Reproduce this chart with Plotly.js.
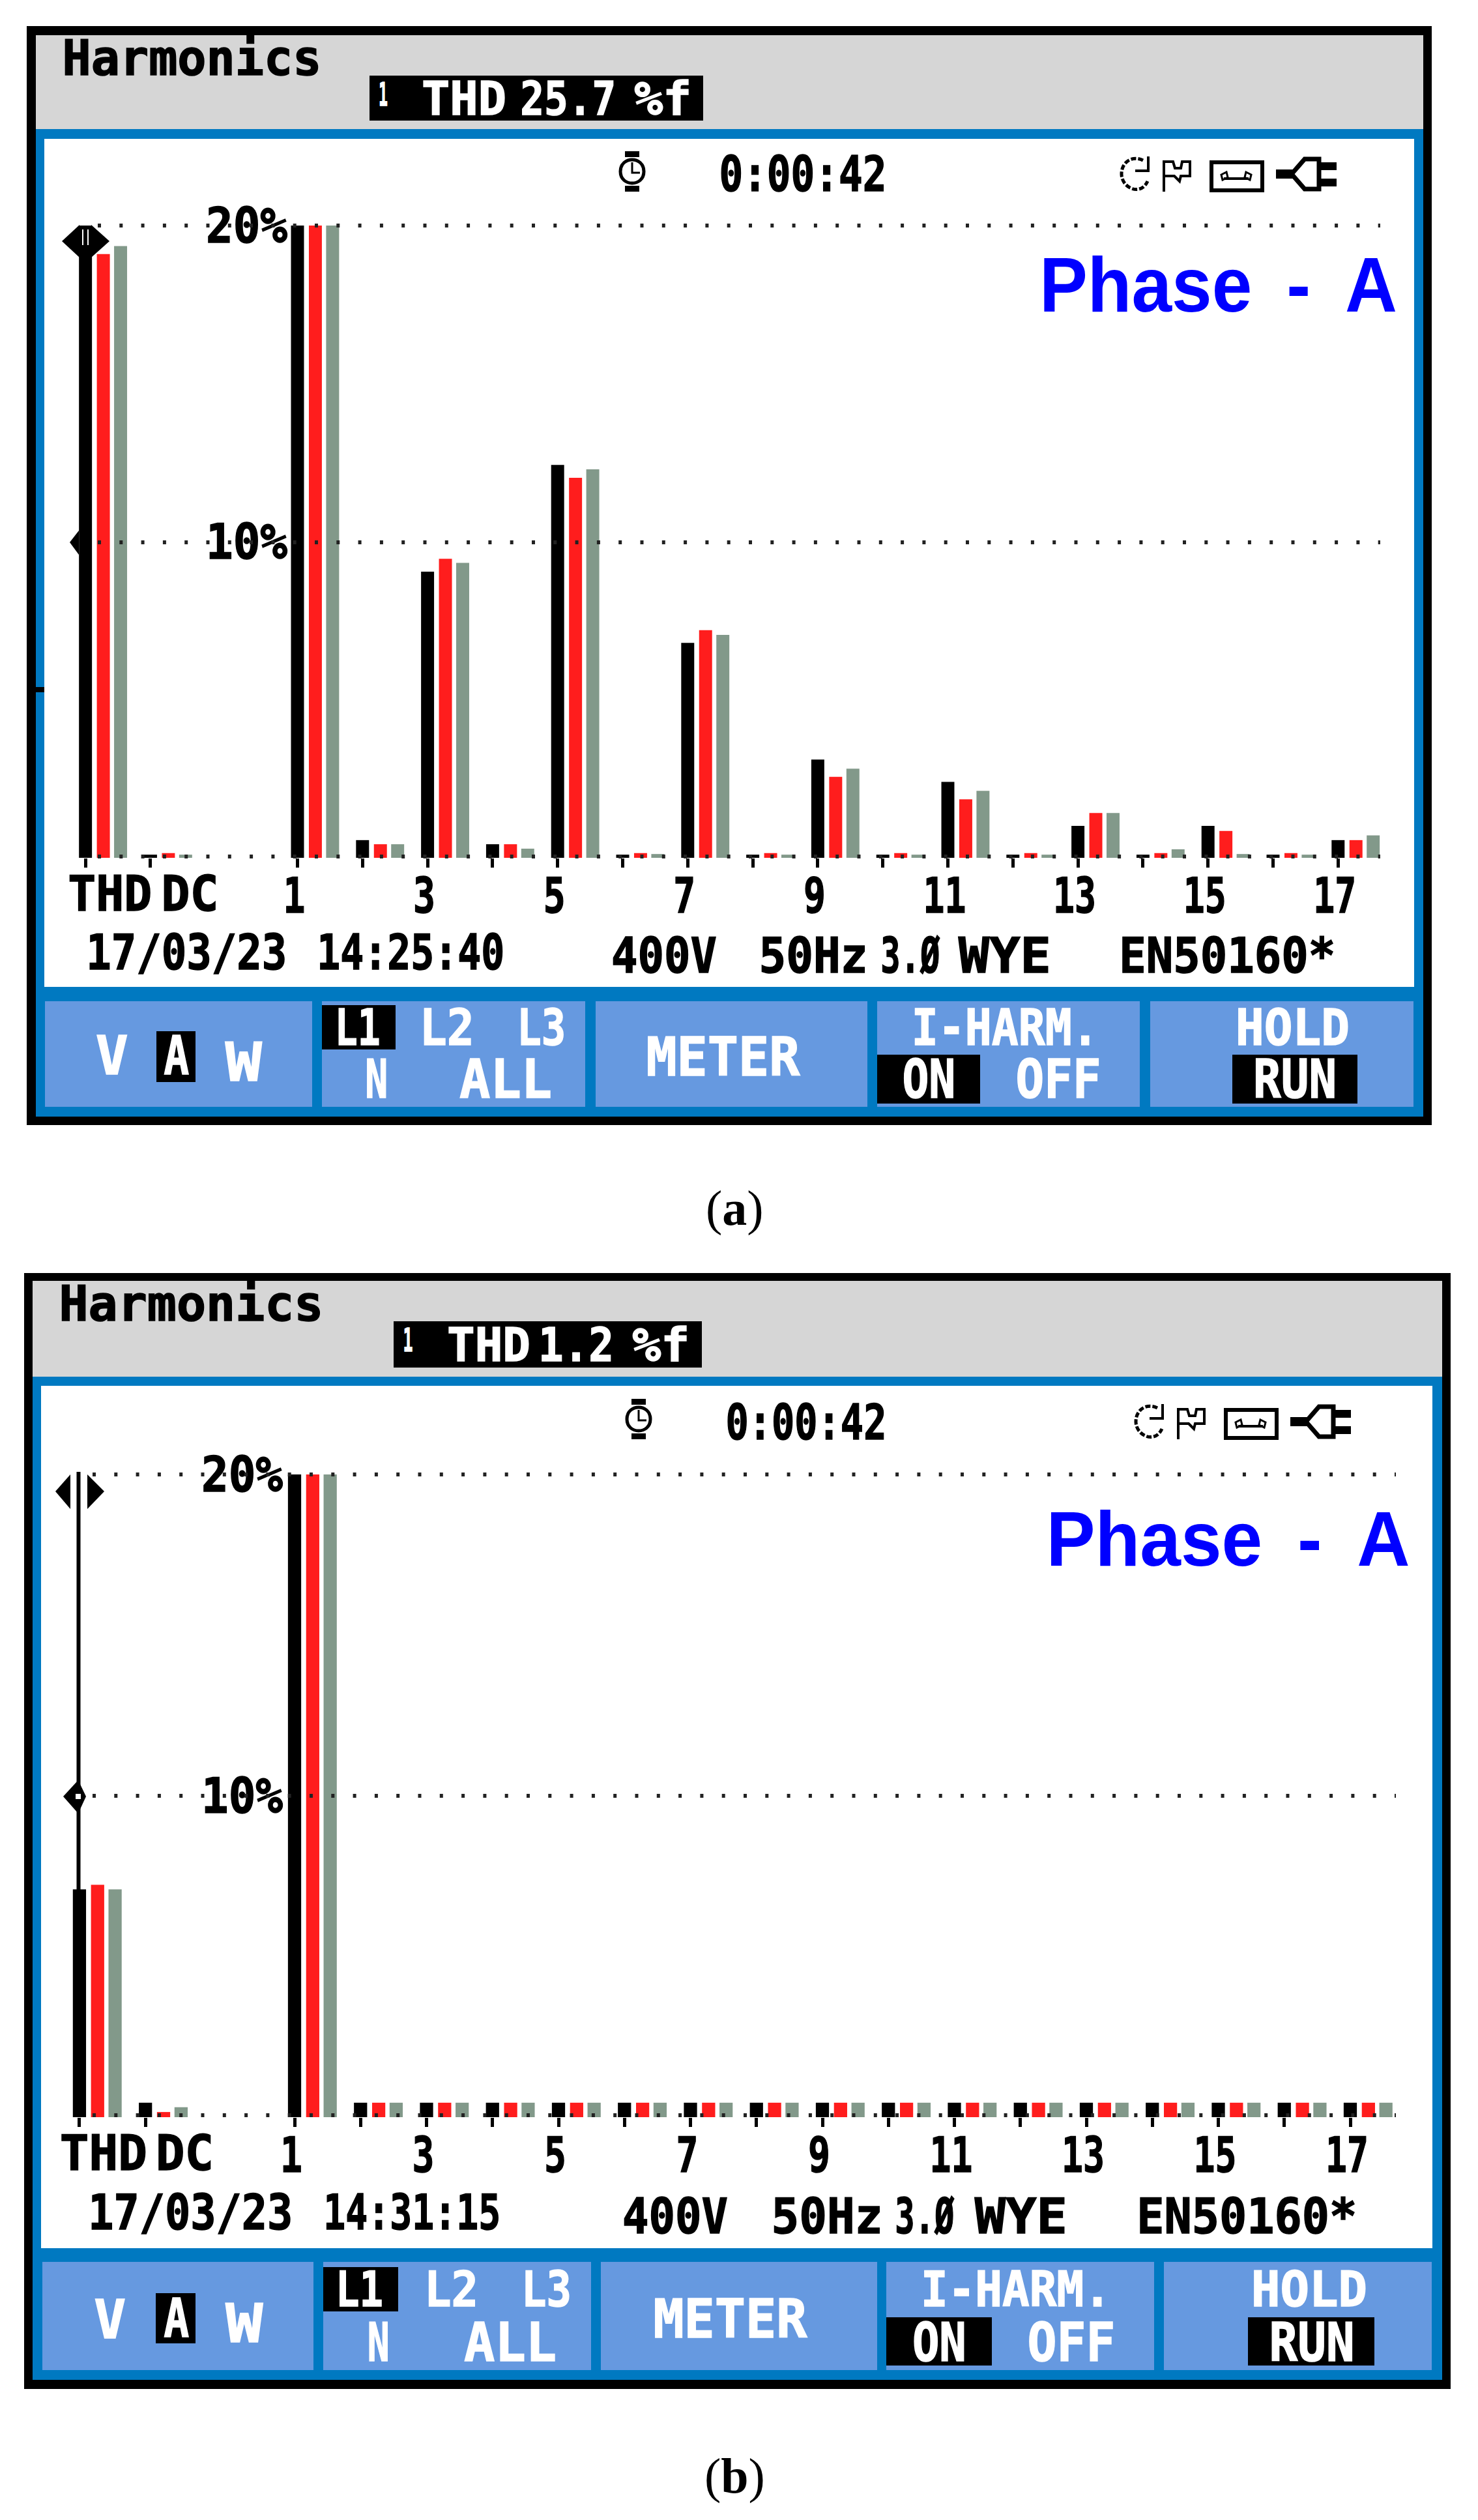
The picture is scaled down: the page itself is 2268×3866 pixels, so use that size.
<!DOCTYPE html>
<html>
<head>
<meta charset="utf-8">
<script src="https://cdn.plot.ly/plotly-3.0.1.min.js"></script>
<style>
html, body { margin: 0; padding: 0; background: #fff; }
</style>
</head>
<body>
<div id="chart" style="width:2268px;height:3866px"></div>
<script>
// Chart values
const tickLabels = ['', '', '1', '', '3', '', '5', '', '7', '', '9', '', '11', '', '13', '', '15', '', '17'];

// order: THD, DC, harmonics 1 to 17 (display saturates at 20%)
const aBlack = [19.2, 0.1, 20, 0.56, 9.05, 0.43, 12.43, 0.1, 6.8, 0.1, 3.11, 0.1, 2.4, 0.1, 1.01, 0.1, 1.01, 0.1, 0.56];
const aRed = [19.1, 0.15, 20, 0.43, 9.46, 0.43, 12.02, 0.15, 7.2, 0.15, 2.56, 0.15, 1.85, 0.15, 1.42, 0.15, 0.85, 0.15, 0.56];
const aGrey = [19.35, 0.1, 20, 0.43, 9.33, 0.29, 12.29, 0.12, 7.05, 0.1, 2.82, 0.1, 2.12, 0.1, 1.42, 0.27, 0.12, 0.1, 0.71];

const bBlack = [7.09, 0.45, 20, 0.45, 0.45, 0.45, 0.45, 0.45, 0.45, 0.45, 0.45, 0.45, 0.45, 0.45, 0.45, 0.45, 0.45, 0.45, 0.45];
const bRed = [7.23, 0.16, 20, 0.45, 0.45, 0.45, 0.45, 0.45, 0.45, 0.45, 0.45, 0.45, 0.45, 0.45, 0.45, 0.45, 0.45, 0.45, 0.45];
const bGrey = [7.09, 0.31, 20, 0.45, 0.45, 0.45, 0.45, 0.45, 0.45, 0.45, 0.45, 0.45, 0.45, 0.45, 0.45, 0.45, 0.45, 0.45, 0.45];

const gridValues = [0, 10, 20];
const gridLabels = ['', '10%', '20%'];

// Slot of each group on the x axis, THD and DC sit left of harmonic 1
const slots = [-2.26, -1.26, 1, 2, 3, 4, 5, 6, 7, 8, 9, 10, 11, 12, 13, 14, 15, 16, 17];

const W = 2268, H = 3866;
const LCD = 'DejaVu Sans Mono';
const WHITE = '#ffffff', BLACK = '#000000', BLUE = '#0079c1', BTN = '#6699e0', GREY = '#d6d6d6';
const RED = '#ff1d1d', SAGE = '#82998a';

const shapes = [];
const annotations = [];
const fitWidths = [];

function px(x) { return x / W; }
function py(y) { return 1 - y / H; }

function rect(x0, y0, x1, y1, fill, layer) {
    shapes.push({
        type: 'rect', xref: 'paper', yref: 'paper',
        x0: px(x0), x1: px(x1), y0: py(y0), y1: py(y1),
        fillcolor: fill, line: { width: 0 }, layer: layer || 'below'
    });
}

// path in page pixels, numbers written as x,y pairs
function path(str, ox, oy, fill, stroke, width, dash) {
    const d = str.replace(/(-?[\d.]+),(-?[\d.]+)/g, (m, a, b) => px(+a + ox) + ',' + py(+b + oy));
    shapes.push({
        type: 'path', xref: 'paper', yref: 'paper', path: d,
        fillcolor: fill || 'rgba(0,0,0,0)',
        line: { color: stroke || BLACK, width: width === undefined ? 0 : width, dash: dash || 'solid' },
        layer: 'above'
    });
}

function label(text, x0, x1, yc, size, color, family, weight) {
    annotations.push({
        text: text, xref: 'paper', yref: 'paper',
        x: px((x0 + x1) / 2), y: py(yc), xanchor: 'center', yanchor: 'middle',
        showarrow: false,
        font: { family: family || LCD, size: size, color: color || BLACK, weight: weight || 700 }
    });
    fitWidths.push(x1 - x0);
}

function dots(x0, x1, gap, yPx) {
    shapes.push({
        type: 'line', xref: 'paper', yref: 'paper',
        x0: px(x0), x1: px(x1), y0: py(yPx), y1: py(yPx),
        line: { color: '#222222', width: 6, dash: '5px,' + (gap - 5) + 'px' },
        layer: 'above'
    });
}

function stopwatch(ox, oy) {
    path('M14,0 L36,0 L36,9 L14,9 Z', ox, oy, BLACK);
    path('M14,53 L36,53 L36,62 L14,62 Z', ox, oy, BLACK);
    path('M7,31 C7,7 43,7 43,31 C43,55 7,55 7,31 Z', ox, oy, WHITE, BLACK, 5);
    path('M25,17 L25,33 L37,33', ox, oy, null, BLACK, 3);
}

function statusIcons(ox, oy) {
    // restart arrow
    path('M36,6 C20,-2 3,8 3,27 C3,48 32,62 43,38', ox, oy, null, BLACK, 5, '8px,3px');
    path('M44,0 L44,22 L24,22', ox, oy, null, BLACK, 4);
    // flag
    path('M68,54 L68,8 L82,8 L85,18 L94,18 L96,8 L108,8 L108,30 L94,30 L92,38 L84,30 L70,30', ox, oy, null, BLACK, 4);
    // tape box
    path('M141,9 L219,9 L219,52 L141,52 Z', ox, oy, null, BLACK, 6);
    path('M160,34 L198,34', ox, oy, null, BLACK, 4);
    path('M156,28 L164,24 L166,32 L158,36 Z', ox, oy, null, BLACK, 3);
    path('M194,24 L202,28 L200,36 L192,32 Z', ox, oy, null, BLACK, 3);
    // plug
    path('M240,27 L266,27', ox, oy, null, BLACK, 14);
    path('M264,27 L284,4 L306,4 L306,50 L284,50 Z', ox, oy, WHITE, BLACK, 7);
    path('M304,9 L333,9 L333,21 L304,21 Z', ox, oy, BLACK);
    path('M304,34 L333,34 L333,46 L304,46 Z', ox, oy, BLACK);
}

function drawFrame(f) {
    rect(f.outer[0], f.outer[1], f.outer[2], f.outer[3], BLACK);
    rect(f.inner[0], f.inner[1], f.inner[2], f.head, GREY);
    rect(f.inner[0], f.head, f.inner[2], f.inner[3], BLUE);
    rect(f.screen[0], f.screen[1], f.screen[2], f.screen[3], WHITE);
    f.buttons.forEach(b => rect(b[0], f.btnY[0], b[1], f.btnY[1], BTN));
    f.boxes.forEach(b => rect(b[0], b[1], b[2], b[3], BLACK));
    f.labels.forEach(l => label(l[0], l[1], l[2], l[3], l[4], l[5]));
    f.dotRows.forEach(y => dots(f.dotX[0], f.dotX[1], f.dotGap, y));
    stopwatch(f.watch[0], f.watch[1]);
    statusIcons(f.icons[0], f.icons[1]);
    label('Phase \u2009- \u2009A', f.phase[0], f.phase[1], f.phase[2], 118, '#0000ff', 'Liberation Sans', 700);
}

const frameA = {
    outer: [41, 40, 2197, 1726], inner: [55, 54, 2184, 1713], head: 198,
    screen: [68, 213, 2170, 1514],
    btnY: [1536, 1698],
    buttons: [[69, 479], [494, 898], [914, 1331], [1346, 1749], [1765, 2169]],
    boxes: [[567, 116, 1079, 185], [240, 1582, 300, 1660], [494, 1542, 607, 1610], [1346, 1618, 1504, 1693], [1891, 1618, 2083, 1693]],
    dotRows: [346, 832, 1314], dotX: [150, 2118], dotGap: 33.3,
    watch: [945, 232], icons: [1718, 240], phase: [1595, 2144, 437],
    labels: [
        ['Harmonics', 95, 493, 89, 74],
        ['1', 581, 595, 145, 50, WHITE],
        ['THD', 647, 777, 151, 72, WHITE],
        ['25.7', 798, 945, 151, 72, WHITE],
        ['%f', 973, 1061, 151, 72, WHITE],
        ['0:00:42', 1103, 1360, 267, 74],
        ['THD', 104, 233, 1371, 74],
        ['DC', 247, 335, 1371, 74],
        ['17/03/23', 132, 440, 1461, 74],
        ['14:25:40', 486, 774, 1461, 74],
        ['400V', 938, 1100, 1466, 74],
        ['50Hz', 1164, 1331, 1466, 74],
        ['3.Ø', 1351, 1442, 1466, 74],
        ['WYE', 1471, 1613, 1466, 74],
        ['EN50160*', 1717, 2049, 1466, 74],
        ['V', 146, 196, 1620, 82, WHITE],
        ['A', 251, 290, 1620, 82, WHITE],
        ['W', 346, 402, 1629, 82, WHITE],
        ['L1', 514, 584, 1577, 76, WHITE],
        ['L2', 644, 728, 1577, 76, WHITE],
        ['L3', 793, 868, 1577, 76, WHITE],
        ['N', 560, 595, 1656, 82, WHITE],
        ['ALL', 705, 847, 1656, 82, WHITE],
        ['METER', 991, 1227, 1621, 82, WHITE],
        ['I-HARM.', 1398, 1685, 1577, 76, WHITE],
        ['ON', 1384, 1466, 1656, 82, WHITE],
        ['OFF', 1558, 1689, 1656, 82, WHITE],
        ['HOLD', 1896, 2071, 1577, 76, WHITE],
        ['RUN', 1923, 2051, 1656, 82, WHITE]
    ]
};

const frameB = {
    outer: [37, 1953, 2226, 3665], inner: [50, 1965, 2213, 3651], head: 2112,
    screen: [63, 2126, 2198, 3449],
    btnY: [3470, 3636],
    buttons: [[65, 481], [496, 907], [922, 1346], [1360, 1771], [1786, 2197]],
    boxes: [[604, 2027, 1077, 2098], [239, 3518, 300, 3595], [496, 3478, 611, 3546], [1360, 3555, 1522, 3629], [1915, 3555, 2109, 3629]],
    dotRows: [2262, 2755, 3245], dotX: [142, 2142], dotGap: 33.3,
    watch: [955, 2146], icons: [1740, 2154], phase: [1605, 2163, 2361],
    labels: [
        ['Harmonics', 90, 496, 2000, 74],
        ['1', 618, 633, 2056, 50, WHITE],
        ['THD', 686, 814, 2063, 72, WHITE],
        ['1.2', 826, 942, 2063, 72, WHITE],
        ['%f', 970, 1058, 2063, 72, WHITE],
        ['0:00:42', 1114, 1361, 2182, 74],
        ['THD', 92, 226, 3303, 74],
        ['DC', 239, 328, 3303, 74],
        ['17/03/23', 135, 449, 3394, 74],
        ['14:31:15', 496, 768, 3394, 74],
        ['400V', 955, 1117, 3400, 74],
        ['50Hz', 1184, 1355, 3400, 74],
        ['3.Ø', 1373, 1464, 3400, 74],
        ['WYE', 1496, 1638, 3400, 74],
        ['EN50160*', 1744, 2082, 3400, 74],
        ['V', 144, 193, 3558, 82, WHITE],
        ['A', 251, 290, 3556, 82, WHITE],
        ['W', 346, 403, 3564, 82, WHITE],
        ['L1', 515, 588, 3512, 74, WHITE],
        ['L2', 651, 734, 3512, 74, WHITE],
        ['L3', 800, 877, 3512, 74, WHITE],
        ['N', 563, 597, 3593, 82, WHITE],
        ['ALL', 712, 854, 3593, 82, WHITE],
        ['METER', 1002, 1238, 3557, 82, WHITE],
        ['I-HARM.', 1413, 1705, 3512, 74, WHITE],
        ['ON', 1400, 1483, 3593, 82, WHITE],
        ['OFF', 1576, 1711, 3593, 82, WHITE],
        ['HOLD', 1920, 2098, 3512, 74, WHITE],
        ['RUN', 1947, 2078, 3593, 82, WHITE]
    ]
};

drawFrame(frameA);
drawFrame(frameB);
const lcdCount = annotations.length;

// Cursor on the THD group, screen (a)
path('M95,370 L122,345 L122,395 Z', 0, 0, BLACK);
path('M168,370 L140,345 L140,395 Z', 0, 0, BLACK);
path('M122,346 L140,346 L140,386 L131,398 L122,386 Z', 0, 0, BLACK);
path('M127,352 L127,376', 0, 0, null, WHITE, 2);
path('M135,352 L135,376', 0, 0, null, WHITE, 2);
path('M107,832 L121,814 L121,851 Z', 0, 0, BLACK);
rect(55, 1054, 68, 1062, BLACK, 'above');

// Cursor on the THD group, screen (b)
path('M85,2288 L108,2262 L108,2315 Z', 0, 0, BLACK);
path('M160,2288 L134,2262 L134,2315 Z', 0, 0, BLACK);
rect(117.5, 2258, 123.5, 2900, BLACK, 'above');
path('M97,2756 L120,2731 L132,2756 L120,2782 Z', 0, 0, BLACK);
path('M116,2752 L124,2752 L124,2760 L116,2760 Z', 0, 0, WHITE);

label('(<b>a</b>)', 1082, 1173, 1853, 76, BLACK, 'Liberation Serif', 400);
label('(<b>b</b>)', 1079, 1176, 3798, 76, BLACK, 'Liberation Serif', 400);
fitWidths[fitWidths.length - 1] = null;
fitWidths[fitWidths.length - 2] = null;

function bars(xaxis, yaxis, values, color, offset) {
    return {
        type: 'bar', x: slots, y: values, xaxis: xaxis, yaxis: yaxis,
        width: 0.2, offset: offset,
        marker: { color: color, line: { width: 0 } },
        hoverinfo: 'skip', showlegend: false
    };
}

const traces = [
    bars('x', 'y', aBlack, BLACK, -0.1),
    bars('x', 'y', aRed, RED, 0.175),
    bars('x', 'y', aGrey, SAGE, 0.44),
    bars('x2', 'y2', bBlack, BLACK, -0.1),
    bars('x2', 'y2', bRed, RED, 0.175),
    bars('x2', 'y2', bGrey, SAGE, 0.44)
];

function xAxis(left, right, h1, unit, anchor) {
    return {
        anchor: anchor,
        domain: [left / W, right / W],
        range: [(left - h1) / unit + 1, (right - h1) / unit + 1],
        showgrid: false, zeroline: false, showline: false,
        tickmode: 'array', tickvals: slots, ticktext: tickLabels,
        ticks: 'outside', ticklen: 14, tickwidth: 5, tickcolor: BLACK,
        ticklabelstandoff: -20,
        ticklabelshift: -5,
        tickangle: 0,
        tickfont: { family: LCD, size: 74, color: BLACK, weight: 700 }
    };
}

function yAxis(top, bottom, left, labelX, anchor) {
    return {
        anchor: anchor,
        domain: [1 - bottom / H, 1 - top / H],
        range: [0, 20],
        showgrid: false, zeroline: false, showline: false, ticks: '',
        tickmode: 'array', tickvals: gridValues, ticktext: gridLabels,
        ticklabelposition: 'inside', ticklabeloverflow: 'allow',
        ticklabelstandoff: labelX - left,
        tickfont: { family: LCD, size: 74, color: BLACK, weight: 700 }
    };
}

const layout = {
    width: W, height: H,
    margin: { l: 0, r: 0, t: 0, b: 0 },
    paper_bgcolor: WHITE, plot_bgcolor: 'rgba(0,0,0,0)',
    barmode: 'overlay', showlegend: false, hovermode: false,
    xaxis: xAxis(100, 2150, 456.5, 99.8, 'y'),
    yaxis: yAxis(346, 1316, 100, 313, 'x'),
    xaxis2: xAxis(90, 2180, 452, 101.25, 'y2'),
    yaxis2: yAxis(2262, 3248, 90, 306, 'x2'),
    shapes: shapes,
    annotations: annotations
};

function squeeze(t, w) {
    t.setAttribute('textLength', w);
    t.setAttribute('lengthAdjust', 'spacingAndGlyphs');
}

function thicken(t, color) {
    t.style.stroke = color;
    t.style.strokeWidth = '1.5px';
}

Plotly.newPlot('chart', traces, layout, { displayModeBar: false, staticPlot: true }).then(gd => {
    // squeeze the mono font to the width of the LCD lettering
    gd.querySelectorAll('.annotation').forEach(g => {
        const i = +g.getAttribute('data-index');
        const t = g.querySelector('text');
        if (!t) return;
        if (fitWidths[i]) squeeze(t, fitWidths[i]);
        if (annotations[i].font.family === LCD) thicken(t, annotations[i].font.color);
    });
    gd.querySelectorAll('.xtick text, .x2tick text').forEach(t => {
        const n = t.textContent.length;
        if (n) {
            squeeze(t, n === 1 ? 34 : 66);
            thicken(t, BLACK);
        }
    });
    gd.querySelectorAll('.ytick text, .y2tick text').forEach(t => {
        if (t.textContent) {
            squeeze(t, 125);
            thicken(t, BLACK);
        }
    });
});
</script>
</body>
</html>
